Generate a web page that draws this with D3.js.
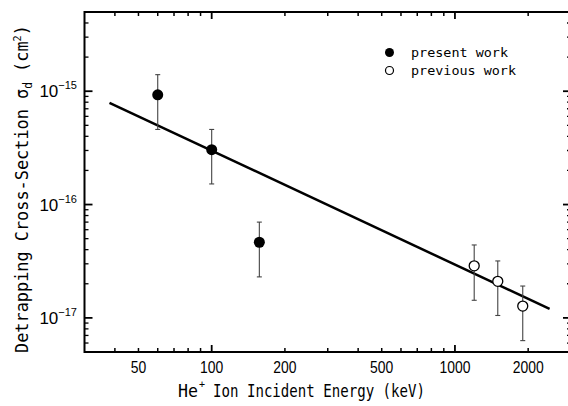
<!DOCTYPE html>
<html>
<head>
<meta charset="utf-8">
<script src="https://cdn.jsdelivr.net/npm/d3@7"></script>
<style>
  body { margin: 0; background: #fff; }
  svg { display: block; }
</style>
</head>
<body>
<svg id="chart"></svg>
<script>
// ---- data
const presentEnergy = [60, 100, 157];
const presentSigma = [9.3e-16, 3.05e-16, 4.65e-17];
const presentLo = [4.6e-16, 1.52e-16, 2.3e-17];
const presentHi = [1.4e-15, 4.6e-16, 7.0e-17];

const previousEnergy = [1200, 1500, 1900];
const previousSigma = [2.88e-17, 2.1e-17, 1.27e-17];
const previousLo = [1.43e-17, 1.05e-17, 6.3e-18];
const previousHi = [4.4e-17, 3.18e-17, 1.91e-17];

const fitEnergy = [38, 2450];
const fitSigma = [7.9e-16, 1.2e-17];

const xTickLabels = [50, 100, 200, 500, 1000, 2000];
const yMajor = [1e-15, 1e-16, 1e-17];
const yExponents = ["−15", "−16", "−17"];

const width = 568, height = 406;
const margin = { top: 12, right: -3, bottom: 54, left: 84.5 };

const svg = d3.select("#chart").attr("width", width).attr("height", height);

const x = d3.scaleLog().domain([30, 3000]).range([margin.left, width - margin.right]);
const y = d3.scaleLog().domain([5e-18, 5e-15]).range([height - margin.bottom, margin.top]);

const x0 = margin.left, x1 = width - margin.right;
const y0 = height - margin.bottom, y1 = margin.top;

// ---- ticks (all point inward)
const xMinor = [];
[10, 100, 1000].forEach(d => {
   for (let k = 2; k < 10; k++) {
      const v = d * k;
      if (v > 30 && v <= 3000) xMinor.push(v);
   }
});
const xMajorTicks = [100, 1000];
const yMinor = [];
[1e-18, 1e-17, 1e-16, 1e-15].forEach(d => {
   for (let k = 2; k < 10; k++) {
      const v = d * k;
      if (v >= 5e-18 && v <= 5e-15) yMinor.push(v);
   }
});

const ticks = svg.append("g").attr("stroke", "#000");
// bottom & top
[[y0, -1], [y1, 1]].forEach(([yy, dir]) => {
   ticks.selectAll(null).data(xMinor).join("line")
      .attr("x1", d => x(d)).attr("x2", d => x(d))
      .attr("y1", yy).attr("y2", yy + dir * 4)
      .attr("stroke-width", 1.5);
   ticks.selectAll(null).data(xMajorTicks).join("line")
      .attr("x1", d => x(d)).attr("x2", d => x(d))
      .attr("y1", yy).attr("y2", yy + dir * 7)
      .attr("stroke-width", 1.8);
});
// left & right
[[x0, 1], [x1, -1]].forEach(([xx, dir]) => {
   ticks.selectAll(null).data(yMinor).join("line")
      .attr("y1", d => y(d)).attr("y2", d => y(d))
      .attr("x1", xx).attr("x2", xx + dir * 4)
      .attr("stroke-width", 1.3);
   ticks.selectAll(null).data(yMajor).join("line")
      .attr("y1", d => y(d)).attr("y2", d => y(d))
      .attr("x1", xx).attr("x2", xx + dir * 8)
      .attr("stroke-width", 1.8);
});

// ---- frame
svg.append("rect")
   .attr("x", x0).attr("y", y1)
   .attr("width", x1 - x0).attr("height", y0 - y1)
   .attr("fill", "none").attr("stroke", "#000").attr("stroke-width", 2);

// ---- tick labels
svg.append("g").selectAll("text").data(xTickLabels).join("text")
   .attr("x", d => x(d)).attr("y", 373)
   .attr("text-anchor", "middle")
   .attr("font-family", "Liberation Sans, Arial, sans-serif")
   .attr("font-size", 17)
   .attr("transform", d => `translate(${x(d)},0) scale(0.82,1) translate(${-x(d)},0)`)
   .text(d => d);

const yl = svg.append("g").selectAll("text").data(yMajor).join("text")
   .attr("x", 77).attr("y", d => y(d) + 6)
   .attr("text-anchor", "end")
   .attr("font-family", "Liberation Sans, Arial, sans-serif")
   .attr("font-size", 17);
yl.append("tspan").text("10");
yl.append("tspan").attr("dy", -8).attr("font-size", 11).text((d, i) => yExponents[i]);

// ---- fit line
const line = d3.line().x(d => x(d[0])).y(d => y(d[1]));
svg.append("path")
   .datum(d3.zip(fitEnergy, fitSigma))
   .attr("d", line)
   .attr("fill", "none").attr("stroke", "#000").attr("stroke-width", 2.5);

// ---- error bars + markers
function drawSeries(ex, sig, lo, hi, filled) {
   const rows = ex.map((e, i) => ({ e, s: sig[i], lo: lo[i], hi: hi[i] }));
   const g = svg.append("g");
   g.selectAll(".eb").data(rows).join("line")
      .attr("x1", d => x(d.e)).attr("x2", d => x(d.e))
      .attr("y1", d => y(d.lo)).attr("y2", d => y(d.hi))
      .attr("stroke", "#444").attr("stroke-width", 1.1);
   ["lo", "hi"].forEach(k => {
      g.selectAll(null).data(rows).join("line")
         .attr("x1", d => x(d.e) - 2.5).attr("x2", d => x(d.e) + 2.5)
         .attr("y1", d => y(d[k])).attr("y2", d => y(d[k]))
         .attr("stroke", "#444").attr("stroke-width", 1.1);
   });
   g.selectAll("circle").data(rows).join("circle")
      .attr("cx", d => x(d.e)).attr("cy", d => y(d.s))
      .attr("r", filled ? 5.5 : 5)
      .attr("fill", filled ? "#000" : "#fff")
      .attr("stroke", "#000").attr("stroke-width", filled ? 0 : 1.3);
}
drawSeries(presentEnergy, presentSigma, presentLo, presentHi, true);
drawSeries(previousEnergy, previousSigma, previousLo, previousHi, false);

// ---- legend
const legend = svg.append("g").attr("font-family", "DejaVu Sans Mono, monospace").attr("font-size", 13);
legend.append("circle").attr("cx", 389.5).attr("cy", 52.5).attr("r", 4.5).attr("fill", "#000");
legend.append("circle").attr("cx", 389.5).attr("cy", 70.5).attr("r", 4).attr("fill", "#fff")
   .attr("stroke", "#000").attr("stroke-width", 1.2);
legend.append("text").attr("x", 411).attr("y", 57).attr("textLength", 97)
   .attr("lengthAdjust", "spacingAndGlyphs").text("present work");
legend.append("text").attr("x", 411).attr("y", 75).attr("textLength", 105)
   .attr("lengthAdjust", "spacingAndGlyphs").text("previous work");

// ---- axis titles
const titleFont = "DejaVu Sans Mono, monospace";
svg.append("text")
   .attr("x", 178).attr("y", 397)
   .attr("font-family", titleFont).attr("font-size", 18)
   .attr("textLength", 20).attr("lengthAdjust", "spacingAndGlyphs")
   .text("He");
svg.append("text")
   .attr("x", 199).attr("y", 388)
   .attr("font-family", titleFont).attr("font-size", 10)
   .text("+");
svg.append("text")
   .attr("x", 213).attr("y", 397)
   .attr("font-family", titleFont).attr("font-size", 18)
   .attr("textLength", 212).attr("lengthAdjust", "spacingAndGlyphs")
   .text("Ion Incident Energy (keV)");

const yt = svg.append("text")
   .attr("transform", "translate(28,353) rotate(-90)")
   .attr("font-family", titleFont)
   .attr("font-size", 18)
   .attr("textLength", 328).attr("lengthAdjust", "spacingAndGlyphs");
yt.append("tspan").text("Detrapping Cross-Section σ");
yt.append("tspan").attr("dy", 4).attr("font-size", 12).text("d");
yt.append("tspan").attr("dy", -4).text(" (cm");
yt.append("tspan").attr("dy", -7).attr("font-size", 11).text("2");
yt.append("tspan").attr("dy", 7).text(")");
</script>
</body>
</html>
